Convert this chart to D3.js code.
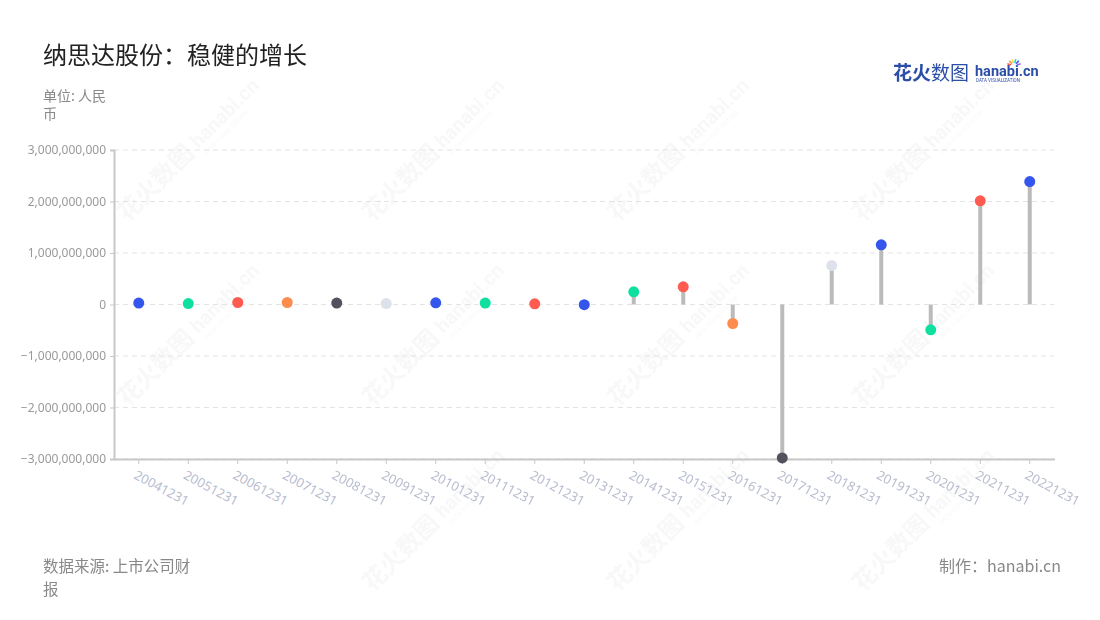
<!DOCTYPE html>
<html><head><meta charset="utf-8">
<script src="https://cdn.jsdelivr.net/npm/d3@7/dist/d3.min.js"></script>
<style>body{margin:0;background:#fff;}svg{display:block;font-family:"Noto Sans CJK SC","Noto Sans",sans-serif;}</style>
</head><body><svg id="c" width="1100" height="620"></svg>
<script>
const categories = ["20041231","20051231","20061231","20071231","20081231","20091231","20101231","20111231","20121231","20131231","20141231","20151231","20161231","20171231","20181231","20191231","20201231","20211231","20221231"];
const values = [27e6,19e6,39e6,39e6,27e6,19e6,33e6,27e6,13e6,-3e6,247e6,344e6,-369e6,-2980e6,757e6,1159e6,-491e6,2013e6,2388e6];
const pointColors = ["#3556ec","#0fe0a0","#ff5b50","#ff8c4f","#52525e","#dde1ea","#3556ec","#0fe0a0","#ff5b50","#3556ec","#0fe0a0","#ff5b50","#ff8c4f","#52525e","#dde1ea","#3556ec","#0fe0a0","#ff5b50","#3556ec"];
const yTicks = [-3e9,-2e9,-1e9,0,1e9,2e9,3e9];

const svg = d3.select("#c");
const L = 114, R = 1054.5, T = 150, B = 459;

// watermarks
const wm = svg.append("g").attr("opacity",0.05).attr("fill","#666");
for (let r=0;r<3;r++) for (let c=0;c<4;c++){
  if (r===2 && c===0) continue;
  const cx = 170 + c*245, cy = 180 + r*185;
  const g = wm.append("g").attr("transform",`translate(${cx},${cy}) rotate(-45)`);
  g.append("text").attr("x",-60).attr("y",0).attr("font-size",24).attr("font-weight","bold").text("花火数图");
  g.append("text").attr("x",42).attr("y",-2).attr("font-size",20).attr("font-weight","bold").attr("font-family","Roboto,sans-serif").text("hanabi.cn");
  g.append("text").attr("x",44).attr("y",8).attr("font-size",6).attr("font-family","Roboto,sans-serif").text("DATA VISUALIZATION");
}

const x = d3.scaleBand().domain(categories).range([L,R]);
const y = d3.scaleLinear().domain([-3e9,3e9]).range([B,T]);

// grid
svg.append("g").selectAll("line").data(yTicks).join("line")
  .attr("x1",L).attr("x2",R).attr("y1",d=>y(d)).attr("y2",d=>y(d))
  .attr("stroke","#e3e3e3").attr("stroke-dasharray","5,4");

// y axis
const ya = svg.append("g").attr("transform",`translate(${L},0)`)
  .call(d3.axisLeft(y).tickValues(yTicks).tickSize(4).tickPadding(4).tickFormat(d3.format(",")));
ya.select(".domain").attr("stroke","#c8c8c8").attr("stroke-width",2);
ya.selectAll(".tick line").attr("stroke","#c8c8c8");
ya.selectAll("text").attr("fill","#999").attr("font-size",12).attr("font-family","'Noto Sans',sans-serif");

// x axis
const xa = svg.append("g").attr("transform",`translate(0,${B})`)
  .call(d3.axisBottom(x).tickSize(5).tickSizeOuter(0));
xa.select(".domain").attr("stroke","#c8c8c8").attr("stroke-width",2);
xa.selectAll(".tick line").attr("stroke","#c8c8c8");
xa.selectAll("text").attr("fill","#b8bdcf").attr("font-size",13).attr("font-family","'Noto Sans',sans-serif")
  .attr("text-anchor","start").attr("dy",0).attr("transform","translate(-2,12) rotate(28)");

// stems
svg.append("g").selectAll("line").data(values).join("line")
  .attr("x1",(d,i)=>x(categories[i])+x.bandwidth()/2).attr("x2",(d,i)=>x(categories[i])+x.bandwidth()/2)
  .attr("y1",y(0)).attr("y2",d=>y(d)).attr("stroke","#bbbbbb").attr("stroke-width",4);

// points
svg.append("g").selectAll("circle").data(values).join("circle")
  .attr("cx",(d,i)=>x(categories[i])+x.bandwidth()/2).attr("cy",d=>y(d)).attr("r",5.5)
  .attr("fill",(d,i)=>pointColors[i]);

// title etc
svg.append("text").attr("x",43).attr("y",64).attr("font-size",24).attr("fill","#222").text("纳思达股份：稳健的增长");
const sub = svg.append("text").attr("font-size",14).attr("fill","#888");
sub.append("tspan").attr("x",43).attr("y",101).text("单位: 人民");
sub.append("tspan").attr("x",43).attr("y",119).text("币");
const src = svg.append("text").attr("font-size",15.5).attr("fill","#888");
src.append("tspan").attr("x",43).attr("y",572).text("数据来源: 上市公司财");
src.append("tspan").attr("x",43).attr("y",595).text("报");
svg.append("text").attr("x",1061).attr("y",572).attr("font-size",16).attr("fill","#888").attr("text-anchor","end").text("制作：hanabi.cn");

// logo
const lg = svg.append("g");
lg.append("text").attr("x",893).attr("y",80).attr("font-size",19).attr("font-weight","bold").attr("fill","#2b4ea8").text("花火");
lg.append("text").attr("x",931).attr("y",80).attr("font-size",19).attr("fill","#2b4ea8").text("数图");
lg.append("text").attr("x",975).attr("y",76).attr("font-size",14.5).attr("font-weight","bold").attr("fill","#2b4ea8").attr("font-family","Roboto,sans-serif").text("hanabi.cn");
lg.append("text").attr("x",976).attr("y",82).attr("font-size",4.5).attr("fill","#2b4ea8").attr("font-family","Roboto,sans-serif").text("DATA VISUALIZATION");
const sc = ["#ff5b50","#ff8c4f","#ffd24f","#0fe0a0","#3556ec","#a05cf0"];
sc.forEach((c,i)=>{const a=-Math.PI/2 + (i-2.5)*0.5; lg.append("line").attr("x1",1014+Math.cos(a)*3).attr("y1",66+Math.sin(a)*3).attr("x2",1014+Math.cos(a)*7).attr("y2",66+Math.sin(a)*7).attr("stroke",c).attr("stroke-width",1.5);});
</script></body></html>
